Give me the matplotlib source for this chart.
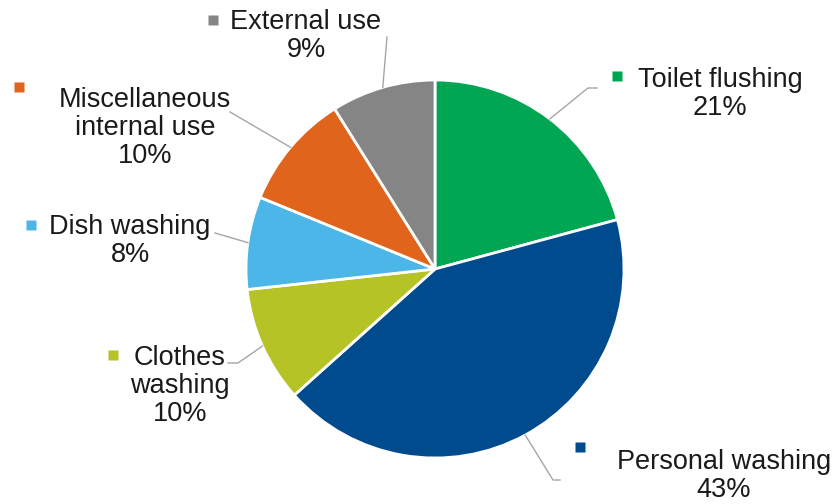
import numpy as np
import matplotlib.pyplot as plt

# Domestic water use breakdown
labels = ['Toilet flushing', 'Personal washing', 'Clothes\nwashing', 'Dish washing',
          'Miscellaneous\ninternal use', 'External use']
shares = [21, 43, 10, 8, 10, 9]
colors = ['#00A651', '#004B8D', '#B5C327', '#4DB6E8', '#E0641B', '#858585']

H = 504  # pixel height, used to convert layout positions (y measured from top)

# label layout: centre of text block, marker position, leader bend points (pixels from top-left)
text_pos = [(720, 94), (724, 476), (180, 386), (130, 241), (145, 128), (306, 36)]
marker_pos = [(617, 76), (580, 447), (113, 355), (31, 225), (19, 87), (213, 20)]
leader_pts = [[(588, 88), (597, 88)], [(553, 480), (560, 480)], [(238, 363), (228, 363)],
              [(215, 233)], [(230, 112)], [(387, 37)]]

fig = plt.figure(figsize=(8.39, 5.04), dpi=100)
ax = fig.add_axes([0, 0, 1, 1])
ax.set_xlim(0, 839)
ax.set_ylim(0, H)
ax.set_aspect('equal')
ax.axis('off')

cx, cy, r = 435, H - 269, 189
wedges, _ = ax.pie(shares, colors=colors, startangle=90, counterclock=False,
                   center=(cx, cy), radius=r,
                   wedgeprops=dict(edgecolor='white', linewidth=2))
ax.set_xlim(0, 839)
ax.set_ylim(0, H)

for w, lab, sh, tp, mp, pts, c in zip(wedges, labels, shares, text_pos, marker_pos, leader_pts, colors):
    ang = np.deg2rad((w.theta1 + w.theta2) / 2)
    xs = [cx + r * np.cos(ang)] + [p[0] for p in pts]
    ys = [cy + r * np.sin(ang)] + [H - p[1] for p in pts]
    ax.plot(xs, ys, color='#A6A6A6', lw=1)
    ax.text(tp[0], H - tp[1], f'{lab}\n{sh}%', ha='center', va='center',
            multialignment='center', fontsize=19.5, family='Liberation Sans',
            color='#1A1A1A', linespacing=1.1)
    ax.plot(mp[0], H - mp[1], marker='s', ms=6.5, color=c, mec='none')

fig.savefig('out.png', dpi=100)
